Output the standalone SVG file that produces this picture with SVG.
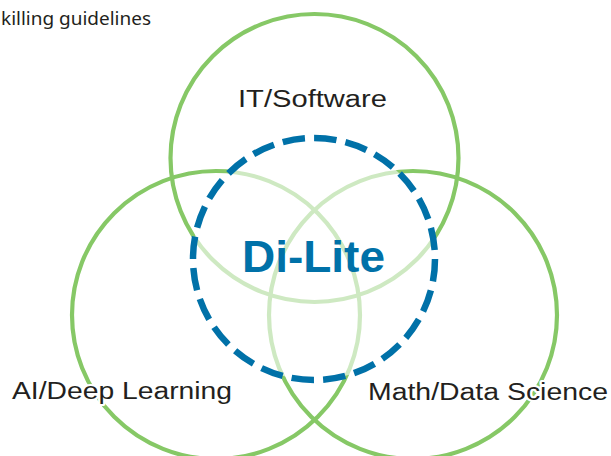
<svg xmlns="http://www.w3.org/2000/svg" width="611" height="456" viewBox="0 0 611 456">
<style>
.ring{fill:none;stroke:#86c866;stroke-width:4.2}
.lbl{font-family:"Liberation Sans",Arial,sans-serif;font-size:23.5px;fill:#231f20;stroke:#ffffff;stroke-width:4;paint-order:stroke;stroke-linejoin:round}
.top{font-family:"Noto Sans","Liberation Sans",sans-serif;font-size:18px;fill:#231f20}
.core{fill:#ffffff;fill-opacity:0.6;stroke:none}
.dash{fill:none;stroke:#0071a8;stroke-width:6.5;stroke-dasharray:22.5 9.17}
.title{font-family:"Liberation Sans",Arial,sans-serif;font-weight:bold;font-size:45px;fill:#0071a8}
</style>
<rect width="611" height="456" fill="#ffffff"/>
<text class="top" x="1" y="25" textLength="150" lengthAdjust="spacingAndGlyphs">killing guidelines</text>
<g id="it-software">
<circle class="ring" cx="314.5" cy="158" r="144"/>
</g>
<g id="ai-deep-learning">
<circle class="ring" cx="216" cy="315" r="144"/>
</g>
<g id="math-data-science">
<circle class="ring" cx="413" cy="315" r="144"/>
</g>
<g id="di-lite">
<circle class="core" cx="314" cy="259" r="121"/>
<path class="dash" d="M435 259 A121 121 0 0 1 193 259 A121 121 0 0 1 435 259 Z"/>
<text class="title" x="313.5" y="272" text-anchor="middle" textLength="143" lengthAdjust="spacingAndGlyphs">Di-Lite</text>
</g>
<g id="labels">
<text class="lbl" x="238" y="107" textLength="149" lengthAdjust="spacingAndGlyphs">IT/Software</text>
<text class="lbl" x="12" y="399" textLength="220" lengthAdjust="spacingAndGlyphs">AI/Deep Learning</text>
<text class="lbl" x="368" y="400" textLength="240" lengthAdjust="spacingAndGlyphs">Math/Data Science</text>
</g>
<g id="connectors"></g>
</svg>
